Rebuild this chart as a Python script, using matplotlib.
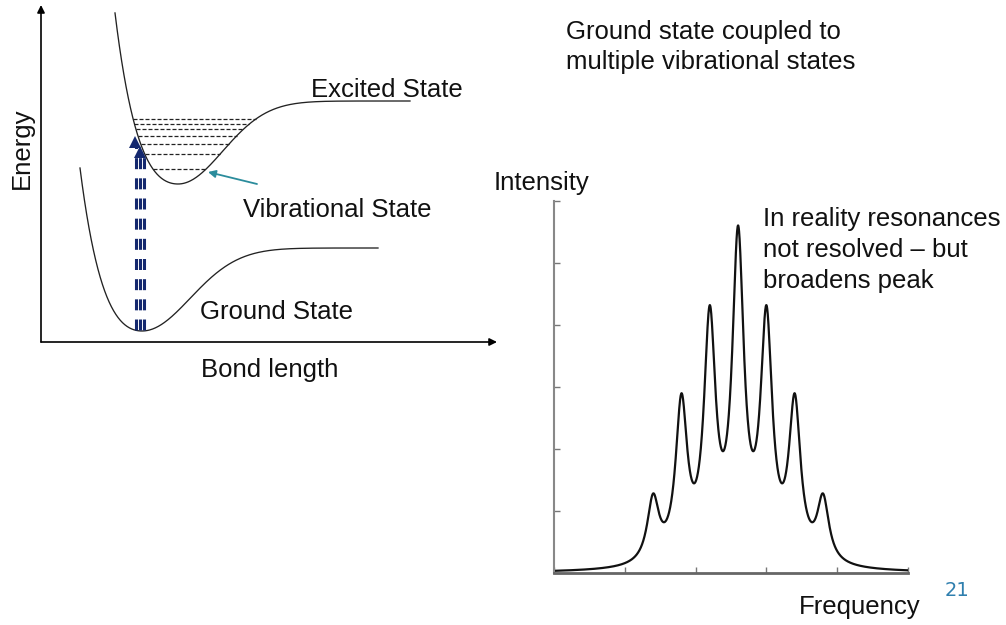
import numpy as np
import matplotlib
matplotlib.use("Agg")
import matplotlib.pyplot as plt

plt.rcParams['font.family'] = ['Liberation Sans', 'DejaVu Sans']

# --- left panel: potential wells (units: bond length / energy, arbitrary) ---
ground = dict(re=1.01, e0=0.11, depth=0.83, a_left=1.413, w_right=0.68, r0=0.39, r1=3.37)
excited = dict(re=1.37, e0=1.58, depth=0.83, a_left=1.413, w_right=0.63, r0=0.74, r1=3.69)
vib_levels = [0.15, 0.30, 0.40, 0.48, 0.55, 0.60, 0.65]   # above excited minimum
bar_x = [0.95, 0.99, 1.03]
bar_top = [1.98, 1.88, 1.88]
bar_bottom = 0.12
head_x = [0.94, 0.99]
head_tip = [2.05, 1.95]

# --- right panel: spectrum ---
peak_pos = [1.4, 1.8, 2.2, 2.6, 3.0, 3.4, 3.8]
peak_amp = [1.02, 2.5, 3.78, 5.07, 3.78, 2.5, 1.02]
gamma = 0.1


def well(r, p):
    d = r - p['re']
    left = p['depth'] * (np.exp(-p['a_left'] * d) - 1) ** 2
    right = p['depth'] * (1 - np.exp(-(d / p['w_right']) ** 2))
    return p['e0'] + np.where(d < 0, left, right)


def well_edges(e, p):
    left = p['re'] - np.log(1 + np.sqrt(e / p['depth'])) / p['a_left']
    right = p['re'] + p['w_right'] * np.sqrt(-np.log(1 - e / p['depth']))
    return left, right


fig = plt.figure(figsize=(10.06, 6.25), dpi=100)

ax = fig.add_axes([41 / 1006, 283 / 625, 456 / 1006, 337 / 625])
ax.set_xlim(0, 4.56)
ax.set_ylim(0, 3.37)
ax.axis('off')
for xy in [(0, 1), (1, 0)]:
    ax.annotate('', xy=xy, xytext=(0, 0), xycoords='axes fraction',
                arrowprops=dict(arrowstyle='-|>', color='k', lw=1.2,
                                mutation_scale=11, shrinkA=0, shrinkB=0))

for p in [ground, excited]:
    r = np.linspace(p['r0'], p['r1'], 400)
    ax.plot(r, well(r, p), color='#222222', lw=0.95, clip_on=False)

for e in vib_levels:
    l, rr = well_edges(e, excited)
    ax.plot([l, rr], [excited['e0'] + e] * 2, color='#222222', lw=0.9,
            dashes=(3.2, 1.6))

for x, top in zip(bar_x, bar_top):
    ax.plot([x, x], [bar_bottom, top], color='#14286e', lw=2.2,
            dashes=(3.6, 3.0), solid_capstyle='butt', dash_capstyle='butt')
for x, tip in zip(head_x, head_tip):
    ax.plot(x, tip - 0.045, marker='^', ms=8, color='#14286e', mew=0)

# pointer to the lowest vibrational level
ax.annotate('', xy=(1.67, 1.70), xytext=(2.16, 1.58),
            arrowprops=dict(arrowstyle='-|>', color='#2b8c9c', lw=1.3,
                            mutation_scale=11, shrinkA=0, shrinkB=0))

# --- right panel ---
ax2 = fig.add_axes([554 / 1006, 52 / 625, 354 / 1006, 372 / 625])
x = np.linspace(0, 5, 2000)
y = np.zeros_like(x)
for c, a in zip(peak_pos, peak_amp):
    y += a / (1 + ((x - c) / gamma) ** 2)
ax2.plot(x, y, color='#111111', lw=1.6)
ax2.set_xlim(0, 5)
ax2.set_ylim(0, 6)
ax2.set_xticks(range(6))
ax2.set_yticks(range(7))
ax2.set_xticklabels([])
ax2.set_yticklabels([])
ax2.tick_params(direction='in', length=4, width=1, color='#777777')
ax2.spines['top'].set_visible(False)
ax2.spines['right'].set_visible(False)
ax2.spines['left'].set_color('#888888')
ax2.spines['left'].set_linewidth(1.5)
ax2.spines['bottom'].set_color('#666666')
ax2.spines['bottom'].set_linewidth(2.0)


def ft(px, py, s, **kw):
    kw.setdefault('fontsize', 18.5)
    kw.setdefault('va', 'center')
    fig.text(px / 1006, 1 - py / 625, s, color=kw.pop('color', '#111111'), **kw)


ft(566, 47, 'Ground state coupled to\nmultiple vibrational states', linespacing=1.27)
ft(311, 90, 'Excited State')
ft(243, 210, 'Vibrational State')
ft(200, 312, 'Ground State')
ft(270, 370, 'Bond length', ha='center')
ft(22, 148, 'Energy', ha='center', rotation=90)
ft(494, 183, 'Intensity')
ft(763, 250, 'In reality resonances\nnot resolved \u2013 but\nbroadens peak', linespacing=1.37)
ft(860, 607, 'Frequency', ha='center')
ft(957, 590, '21', ha='center', fontsize=14, color='#2f7fae', family='DejaVu Sans')

fig.savefig('out.png', dpi=100)
